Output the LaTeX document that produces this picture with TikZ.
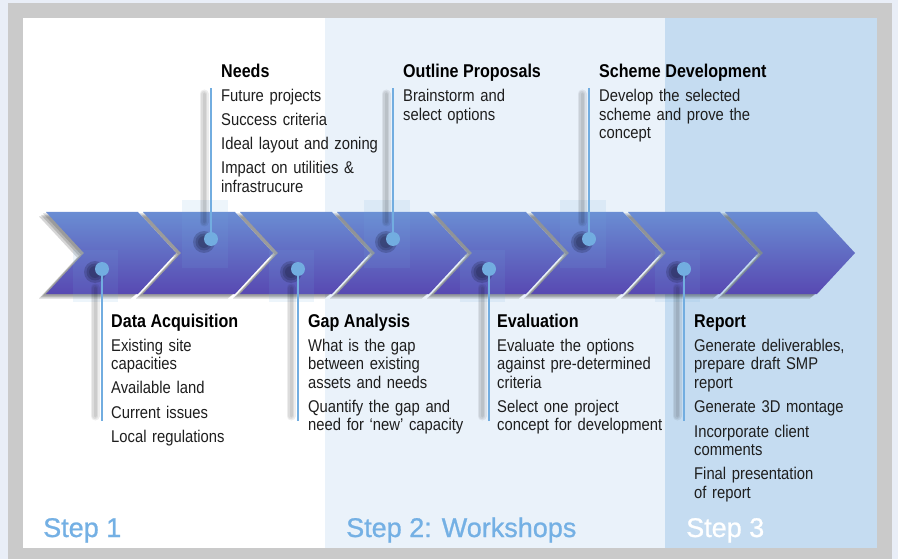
\documentclass[tikz,border=0pt]{standalone}
\usepackage{fontspec}
\setmainfont{Liberation Sans}
\newfontfamily\condfont[FakeStretch=0.87]{Liberation Sans}
\newfontfamily\stepfont[FakeBold=0.9]{Liberation Sans}
\usetikzlibrary{calc}

\definecolor{pagebg}{HTML}{E9EEF7}
\definecolor{framegray}{HTML}{CACACA}
\definecolor{zonelight}{HTML}{EAF2FA}
\definecolor{zonemid}{HTML}{C5DCF1}
\definecolor{dotblue}{HTML}{72ADE0}
\definecolor{stepblue}{HTML}{74B0E4}
\definecolor{chevtop}{HTML}{6A8DD3}
\definecolor{chevbot}{HTML}{5849B2}
\definecolor{bodytext}{HTML}{1E1E1E}
\definecolor{shadenavy}{HTML}{141833}

\tikzset{
  chevron/.style={top color=chevtop, bottom color=chevbot, draw=none},
  chevshadow/.style={fill=black!80, fill opacity=0.2},
  stem/.style={draw=dotblue, line width=2.2pt},
  stemshadow/.style={draw=black, draw opacity=0.07},
  dot/.style={circle, fill=dotblue, minimum size=14pt, inner sep=0pt},
  dotshadow/.style={fill=shadenavy, fill opacity=0.22},
  glass/.style={fill=dotblue, fill opacity=0.12},
  heading/.style={anchor=base west, inner sep=0pt,
    font=\condfont\bfseries\fontsize{18.5}{20}\selectfont, text=black},
  itemtext/.style={anchor=base west, inner sep=0pt, text width=200pt, align=left,
    font=\condfont\fontsize{17}{18.5}\selectfont, text=bodytext},
  steplabel/.style={anchor=base west, inner sep=0pt, font=\stepfont\fontsize{27}{30}\selectfont},
}

\begin{document}
\begin{tikzpicture}[x=1pt, y=-1pt]
  \useasboundingbox (0,0) rectangle (898,559);

  % page, frame and the three stage zones
  \fill[pagebg] (0,0) rectangle (898,559);
  \fill[framegray] (8,3) rectangle (892,559);
  \fill[white] (23,18) rectangle (325,548);
  \fill[zonelight] (325,18) rectangle (665,548);
  \fill[zonemid] (665,18) rectangle (877,548);

  % chevron band: soft layered shadows first, then the chevrons
  \foreach \k in {0,...,7}{
    \pgfmathsetmacro{\xa}{46+97*\k}
    \foreach \dx/\dy in {3/1.5,5/3,7/4.5}{
      \fill[chevshadow] ({\xa-\dx},{212+\dy}) -- ++(92,0) -- ++(38,41) -- ++(-38,41)
        -- ++(-92,0) -- ++(38,-41) -- cycle;
    }
  }
  \foreach \k in {0,...,7}{
    \pgfmathsetmacro{\xa}{46+97*\k}
    \shade[chevron] (\xa,212) -- ++(92,0) -- ++(38,41) -- ++(-38,41)
      -- ++(-92,0) -- ++(38,-41) -- cycle;
  }

  % translucent panels behind the markers
  \foreach \x in {102,298,489,684}{
    \fill[glass] ({\x-29},250) rectangle ({\x+16},302);
  }
  \foreach \x in {211,393,589}{
    \fill[glass] ({\x-29},200) rectangle ({\x+17},268);
  }

  % soft stem shadows
  \foreach \x in {102,298,489,684}{
    \foreach \w in {9,6,3}{
      \draw[stemshadow, line width=\w pt, line cap=round] ({\x-7},288) -- ({\x-7},416);
    }
  }
  \foreach \x in {211,393,589}{
    \foreach \w in {9,6,3}{
      \draw[stemshadow, line width=\w pt, line cap=round] ({\x-7},94) -- ({\x-7},222);
    }
  }
  % soft marker shadows
  \foreach \x in {102,298,489,684}{
    \foreach \r in {11,8.5,6}{
      \fill[dotshadow] ({\x-7},272) circle (\r);
    }
  }
  \foreach \x in {211,393,589}{
    \foreach \r in {11,8.5,6}{
      \fill[dotshadow] ({\x-7},242) circle (\r);
    }
  }

  % markers and their stems
  \node[dot] (dA) at (102,269) {};
  \node[dot] (dN) at (211,239) {};
  \node[dot] (dG) at (298,269) {};
  \node[dot] (dO) at (393,239) {};
  \node[dot] (dE) at (489,269) {};
  \node[dot] (dS) at (589,239) {};
  \node[dot] (dR) at (684,269) {};

  \coordinate (eA) at (102,421);
  \coordinate (eN) at (211,88);
  \coordinate (eG) at (298,421);
  \coordinate (eO) at (393,88);
  \coordinate (eE) at (489,421);
  \coordinate (eS) at (589,88);
  \coordinate (eR) at (684,421);

  \draw[stem] (dA) -- (eA);
  \draw[stem] (dN) -- (eN);
  \draw[stem] (dG) -- (eG);
  \draw[stem] (dO) -- (eO);
  \draw[stem] (dE) -- (eE);
  \draw[stem] (dS) -- (eS);
  \draw[stem] (dR) -- (eR);

  % upper labels
  \node[heading] (hN) at (221,78) {Needs};
  \node[itemtext] (tN) at (221,102) {Future projects\\[5.5pt]
    Success criteria\\[5.5pt]
    Ideal layout and zoning\\[5.5pt]
    Impact on utilities \&\\ infrastrucure};

  \node[heading] (hO) at (403,78) {Outline Proposals};
  \node[itemtext] (tO) at (403,102) {Brainstorm and\\ select options};

  \node[heading] (hS) at (599,78) {Scheme Development};
  \node[itemtext] (tS) at (599,102) {Develop the selected\\ scheme and prove the\\ concept};

  % lower labels
  \node[heading] (hA) at (111,327) {Data Acquisition};
  \node[itemtext] (tA) at (111,351) {Existing site\\ capacities\\[6pt]
    Available land\\[6pt]
    Current issues\\[6pt]
    Local regulations};

  \node[heading] (hG) at (308,327) {Gap Analysis};
  \node[itemtext] (tG) at (308,351) {What is the gap\\ between existing\\ assets and needs\\[6pt]
    Quantify the gap and\\ need for ‘new’ capacity};

  \node[heading] (hE) at (497,327) {Evaluation};
  \node[itemtext] (tE) at (497,351) {Evaluate the options\\ against pre-determined\\ criteria\\[6pt]
    Select one project\\ concept for development};

  \node[heading] (hR) at (694,327) {Report};
  \node[itemtext] (tR) at (694,351) {Generate deliverables,\\ prepare draft SMP\\ report\\[6pt]
    Generate 3D montage\\[6pt]
    Incorporate client\\ comments\\[6pt]
    Final presentation\\ of report};

  % stage captions
  \node[steplabel, text=stepblue] (s1) at (43,537) {Step 1};
  \node[steplabel, text=stepblue] (s2) at (346,537) {Step 2: Workshops};
  \node[steplabel, text=white] (s3) at (686,537) {Step 3};
\end{tikzpicture}
\end{document}
